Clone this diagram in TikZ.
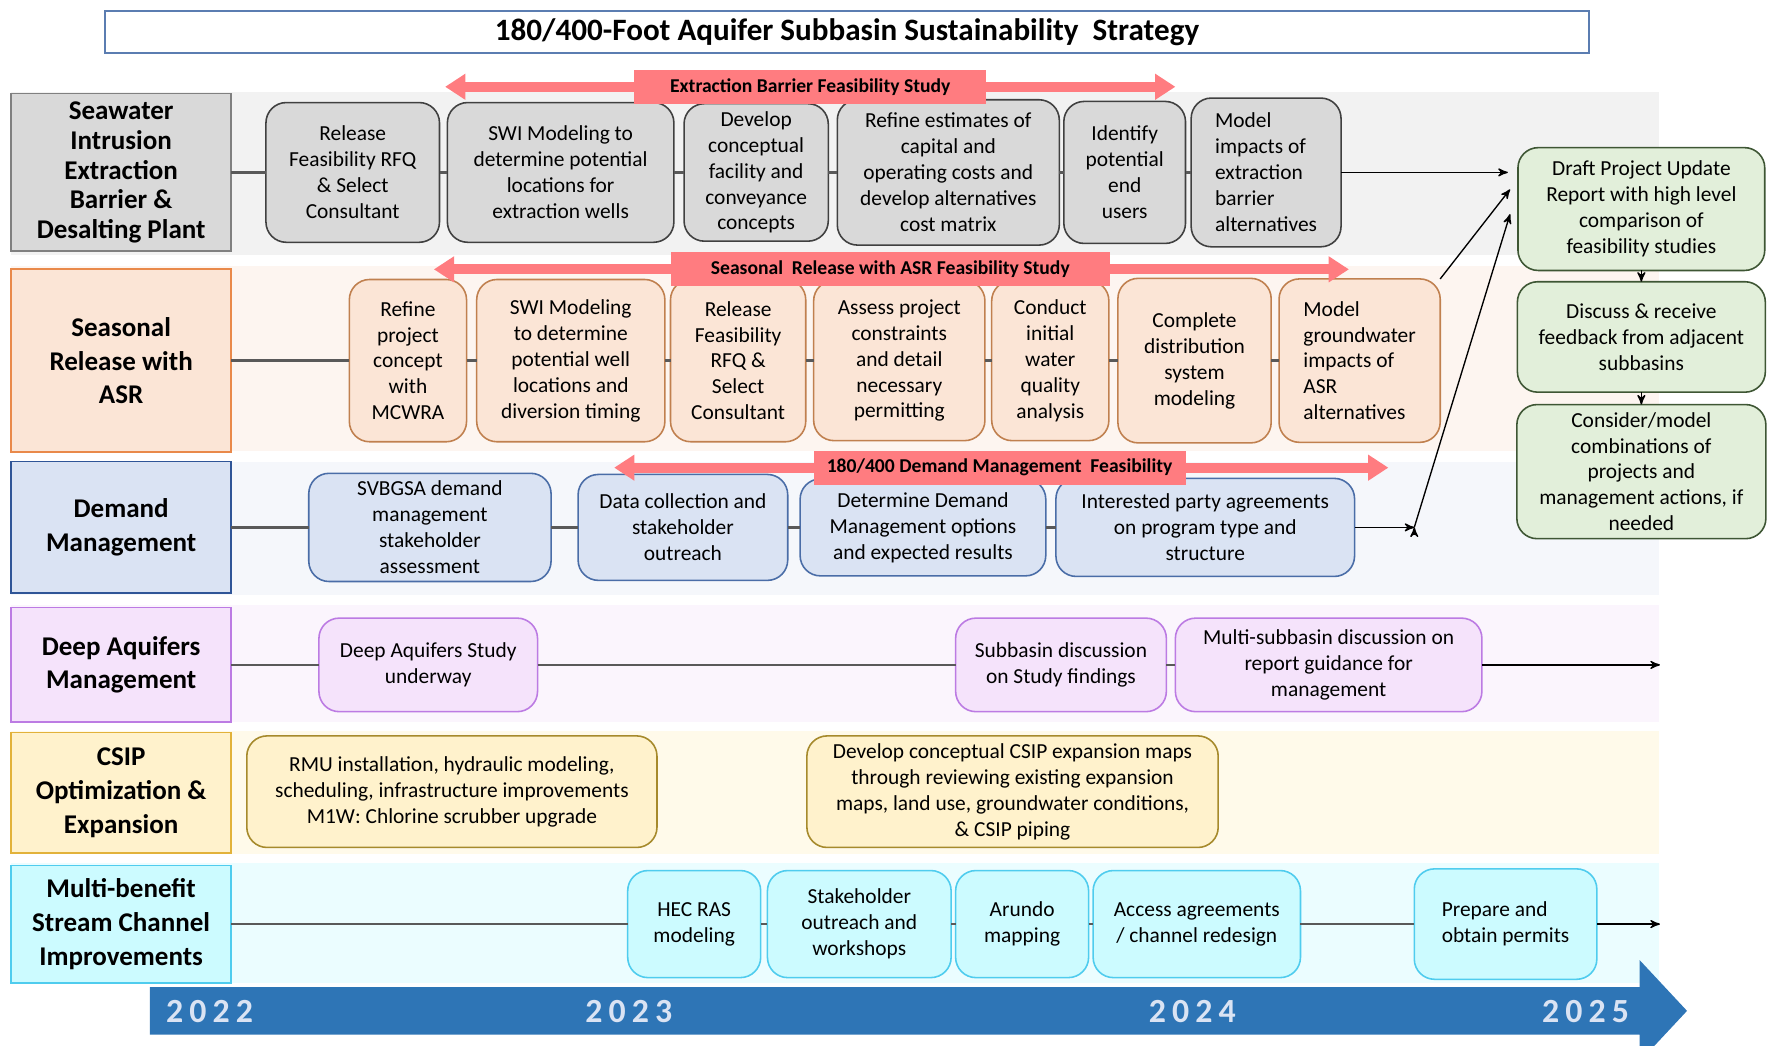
\documentclass[tikz,border=0pt]{standalone}
\usepackage{fontspec}
\setmainfont{Carlito}
\newfontfamily\yearfont[LetterSpace=18]{Carlito}
\usetikzlibrary{positioning,arrows,arrows.meta}

\definecolor{swfill}{HTML}{D9D9D9}
\definecolor{swline}{HTML}{404040}
\definecolor{swband}{HTML}{F2F2F2}
\definecolor{srfill}{HTML}{FBE5D6}
\definecolor{srline}{HTML}{C0804F}
\definecolor{srhead}{HTML}{E9894A}
\definecolor{srband}{HTML}{FDF5F0}
\definecolor{dmfill}{HTML}{DAE3F3}
\definecolor{dmline}{HTML}{4A6DA7}
\definecolor{dmhead}{HTML}{2F5597}
\definecolor{dmband}{HTML}{F5F7FB}
\definecolor{dafill}{HTML}{F5E3FB}
\definecolor{daline}{HTML}{BC7BE3}
\definecolor{daband}{HTML}{FBF5FD}
\definecolor{csfill}{HTML}{FFF2CC}
\definecolor{csline}{HTML}{A68A2C}
\definecolor{cshead}{HTML}{E2B23A}
\definecolor{csband}{HTML}{FFFAEA}
\definecolor{mbfill}{HTML}{CCFBFF}
\definecolor{mbline}{HTML}{4FCCEE}
\definecolor{mbband}{HTML}{EBFDFF}
\definecolor{gnfill}{HTML}{E2EFDA}
\definecolor{gnline}{HTML}{3E5634}
\definecolor{bannerred}{HTML}{FF7C80}
\definecolor{linkgray}{HTML}{595959}
\definecolor{timeblue}{HTML}{2E75B6}
\definecolor{yeartext}{HTML}{DAE3F3}
\definecolor{titleline}{HTML}{5B7DB1}

\begin{document}
\begin{tikzpicture}[x=0.5pt,y=-0.5pt,>=stealth',
    task/.style={draw,rounded corners=9pt,align=center,inner sep=1pt,outer sep=0pt,
                 line width=0.7pt,font=\fontsize{9.5}{11.5}\selectfont},
    rowhead/.style={draw,align=center,inner sep=1pt,outer sep=0pt,line width=0.8pt,
                 minimum width=97.5pt,font=\fontsize{12}{15}\selectfont\bfseries},
    banner/.style={fill=bannerred,minimum height=15pt,inner sep=1pt,
                 font=\fontsize{8.7}{9}\selectfont\bfseries},
    bannerline/.style={draw=bannerred,line width=4.5pt,
                 {Triangle[width=11pt,length=9pt]}-{Triangle[width=11pt,length=9pt]}},
    link/.style={draw=linkgray,line width=1pt},
    feed/.style={->,draw=black,line width=0.6pt},
    year/.style={text=yeartext,font=\yearfont\bfseries\fontsize{15}{15}\selectfont},
    seawater/.style={fill=swfill,draw=swline},
    seasonal/.style={fill=srfill,draw=srline},
    demand/.style={fill=dmfill,draw=dmline},
    deep/.style={fill=dafill,draw=daline},
    csip/.style={fill=csfill,draw=csline},
    stream/.style={fill=mbfill,draw=mbline},
    review/.style={fill=gnfill,draw=gnline}]

  \useasboundingbox (0,0) rectangle (1568,928);

  % row bands
  \fill[swband] (10,82)  rectangle (1472,226);
  \fill[srband] (10,236) rectangle (1472,400);
  \fill[dmband] (10,410) rectangle (1472,528);
  \fill[daband] (10,537) rectangle (1472,641);
  \fill[csband] (10,649) rectangle (1472,758);
  \fill[mbband] (10,766) rectangle (1472,872);

  % title
  \node[draw=titleline,line width=0.8pt,minimum width=658.5pt,minimum height=18.5pt,
        font=\fontsize{13.8}{15}\selectfont\bfseries] (title) at (751.5,28.5)
        {180/400-Foot Aquifer Subbasin Sustainability\ \ Strategy};

  % row heads
  \node[rowhead,seawater,draw=gray,minimum height=70pt,
        font=\fontsize{12}{13.2}\selectfont\bfseries] (lb1) at (107.5,153)
        {Seawater\\Intrusion\\Extraction\\Barrier \&\\Desalting Plant};
  \node[rowhead,fill=srfill,draw=srhead,minimum height=81pt] (lb2) at (107.5,320)
        {Seasonal\\Release with\\ASR};
  \node[rowhead,fill=dmfill,draw=dmhead,minimum height=58.5pt] (lb3) at (107.5,468)
        {Demand\\Management};
  \node[rowhead,deep,minimum height=51pt] (lb4) at (107.5,590)
        {Deep Aquifers\\Management};
  \node[rowhead,fill=csfill,draw=cshead,minimum height=53.5pt] (lb5) at (107.5,703.5)
        {CSIP\\Optimization \&\\Expansion};
  \node[rowhead,stream,minimum height=52pt] (lb6) at (107.5,820)
        {Multi-benefit\\Stream Channel\\Improvements};

  % seawater intrusion
  \node[task,seawater,minimum width=77pt,minimum height=62pt]   (sw1) at (313,153)
        {Release\\Feasibility RFQ\\\& Select\\Consultant};
  \node[task,seawater,minimum width=100.5pt,minimum height=62pt] (sw2) [right=3.5pt of sw1]
        {SWI Modeling to\\determine potential\\locations for\\extraction wells};
  \node[task,seawater,minimum width=64pt,minimum height=61pt]   (sw3) [right=4.5pt of sw2]
        {Develop\\conceptual\\facility and\\conveyance\\concepts};
  \node[task,seawater,minimum width=98.5pt,minimum height=64.5pt] (sw4) [right=4pt of sw3]
        {Refine estimates of\\capital and\\operating costs and\\develop alternatives\\cost matrix};
  \node[task,seawater,minimum width=54pt,minimum height=63pt]   (sw5) [right=2pt of sw4]
        {Identify\\potential\\end\\users};
  \node[task,seawater,align=left,minimum width=66.5pt,minimum height=66pt] (sw6) [right=2.5pt of sw5]
        {Model\\impacts of\\extraction\\barrier\\alternatives};

  % seasonal release
  \node[task,seasonal,minimum width=52pt,minimum height=72pt]   (sr1) at (362,320)
        {Refine\\project\\concept\\with\\MCWRA};
  \node[task,seasonal,minimum width=83.5pt,minimum height=72pt] (sr2) [right=4.5pt of sr1]
        {SWI Modeling\\to determine\\potential well\\locations and\\diversion timing};
  \node[task,seasonal,minimum width=60pt,minimum height=72pt]   (sr3) [right=2.5pt of sr2]
        {Release\\Feasibility\\RFQ \&\\Select\\Consultant};
  \node[task,seasonal,minimum width=76pt,minimum height=71pt]   (sr4) [right=3.5pt of sr3]
        {Assess project\\constraints\\and detail\\necessary\\permitting};
  \node[task,seasonal,minimum width=52pt,minimum height=71pt]   (sr5) [right=3pt of sr4]
        {Conduct\\initial\\water\\quality\\analysis};
  \node[task,seasonal,minimum width=68pt,minimum height=73pt]   (sr6) [right=4pt of sr5]
        {Complete\\distribution\\system\\modeling};
  \node[task,seasonal,align=left,minimum width=71.5pt,minimum height=72.5pt] (sr7) [right=3.5pt of sr6]
        {Model\\groundwater\\impacts of\\ASR\\alternatives};

  % demand management
  \node[task,demand,minimum width=107.5pt,minimum height=48pt] (dm1) at (381.5,468)
        {SVBGSA demand\\management\\stakeholder\\assessment};
  \node[task,demand,minimum width=93pt,minimum height=47pt]    (dm2) [right=12pt of dm1]
        {Data collection and\\stakeholder\\outreach};
  \node[task,demand,minimum width=109pt,minimum height=43pt]   (dm3) [right=5.5pt of dm2]
        {Determine Demand\\Management options\\and expected results};
  \node[task,demand,minimum width=132.5pt,minimum height=43.5pt] (dm4) [right=4.5pt of dm3]
        {Interested party agreements\\on program type and\\structure};

  % deep aquifers
  \node[task,deep,minimum width=97pt,minimum height=41.5pt]  (da1) at (380,590)
        {Deep Aquifers Study\\underway};
  \node[task,deep,minimum width=93.5pt,minimum height=41.5pt] (da2) at (941.5,590)
        {Subbasin discussion\\on Study findings};
  \node[task,deep,minimum width=136pt,minimum height=41.5pt] (da3) [right=4pt of da2]
        {Multi-subbasin discussion on\\report guidance for\\management};

  % csip
  \node[task,csip,minimum width=182pt,minimum height=49.5pt]   (cs1) at (401,702.5)
        {RMU installation, hydraulic modeling,\\scheduling, infrastructure improvements\\M1W: Chlorine scrubber upgrade};
  \node[task,csip,minimum width=182.5pt,minimum height=49.5pt] (cs2) at (898.5,702.5)
        {Develop conceptual CSIP expansion maps\\through reviewing existing expansion\\maps, land use, groundwater conditions,\\\& CSIP piping};

  % multi-benefit stream channel
  \node[task,stream,minimum width=59pt,minimum height=47.5pt]   (mb1) at (616,820)
        {HEC RAS\\modeling};
  \node[task,stream,minimum width=81.5pt,minimum height=47.5pt] (mb2) [right=3pt of mb1]
        {Stakeholder\\outreach and\\workshops};
  \node[task,stream,minimum width=59pt,minimum height=47.5pt]   (mb3) [right=2pt of mb2]
        {Arundo\\mapping};
  \node[task,stream,minimum width=92pt,minimum height=47.5pt]   (mb4) [right=2pt of mb3]
        {Access agreements\\/ channel redesign};
  \node[task,stream,align=left,minimum width=81pt,minimum height=49pt] (mb5) at (1336,820)
        {Prepare and\\obtain permits};

  % review steps
  \node[task,review,minimum width=109.5pt,minimum height=54.5pt] (g1) at (1456.5,185.5)
        {Draft Project Update\\Report with high level\\comparison of\\feasibility studies};
  \node[task,review,minimum width=110pt,minimum height=49pt] (g2) [below=5pt of g1]
        {Discuss \& receive\\feedback from adjacent\\subbasins};
  \node[task,review,minimum width=110.5pt,minimum height=59.5pt] (g3) [below=5.5pt of g2]
        {Consider/model\\combinations of\\projects and\\management actions, if\\needed};

  \coordinate (swend) at (1338,153);
  \coordinate (srend) at (1340,168);
  \coordinate (dmend) at (1255,468);
  \coordinate (dmtop) at (1340,190);
  \coordinate (daend) at (1473,590);
  \coordinate (mbend) at (1473,820);

  % connectors
  \path[link] (lb1) edge (sw1)  (sw1) edge (sw2)  (sw2) edge (sw3)
              (sw3) edge (sw4)  (sw4) edge (sw5)  (sw5) edge (sw6)
              (lb2) edge (sr1)  (sr1) edge (sr2)  (sr2) edge (sr3)
              (sr3) edge (sr4)  (sr4) edge (sr5)  (sr5) edge (sr6)
              (sr6) edge (sr7)
              (lb3) edge (dm1)  (dm1) edge (dm2)  (dm2) edge (dm3)
              (dm3) edge (dm4)
              (lb4) edge (da1)  (da1) edge (da2)  (da2) edge (da3)
              (lb6) edge (mb1)  (mb1) edge (mb2)  (mb2) edge (mb3)
              (mb3) edge (mb4)  (mb4) edge (mb5);
  \path[feed] (sw6) edge (swend)
              (sr7.north east) edge (srend)
              (dm4) edge (dmend)
              (dmend) edge (dmtop)
              (da3) edge (daend)
              (mb5) edge (mbend)
              (g1) edge (g2)
              (g2) edge (g3);

  % feasibility banners
  \coordinate (eba) at (395,77);   \coordinate (ebb) at (1043,77);
  \coordinate (sra) at (385,239);  \coordinate (srb) at (1197,239);
  \coordinate (dma) at (545,415);  \coordinate (dmb) at (1232,415);
  \draw[bannerline] (eba) -- (ebb);
  \draw[bannerline] (sra) -- (srb);
  \draw[bannerline] (dma) -- (dmb);
  \node[banner,minimum width=156pt] (eb) at (719,77) {Extraction Barrier Feasibility Study};
  \node[banner,minimum width=195pt] (sb) at (790,239) {Seasonal\ \ Release with ASR Feasibility Study};
  \node[banner,minimum width=165pt] (db) at (887,415) {180/400 Demand Management\ \ Feasibility};

  % timeline
  \fill[timeblue] (133,876) -- (1455,876) -- (1455,852) -- (1497,897)
        -- (1455,942) -- (1455,918) -- (133,918) -- cycle;
  \node[year] (y22) at (186,898)  {2022};
  \node[year] (y23) at (558,898)  {2023};
  \node[year] (y24) at (1058,898) {2024};
  \node[year] (y25) at (1407,898) {2025};
\end{tikzpicture}
\end{document}
